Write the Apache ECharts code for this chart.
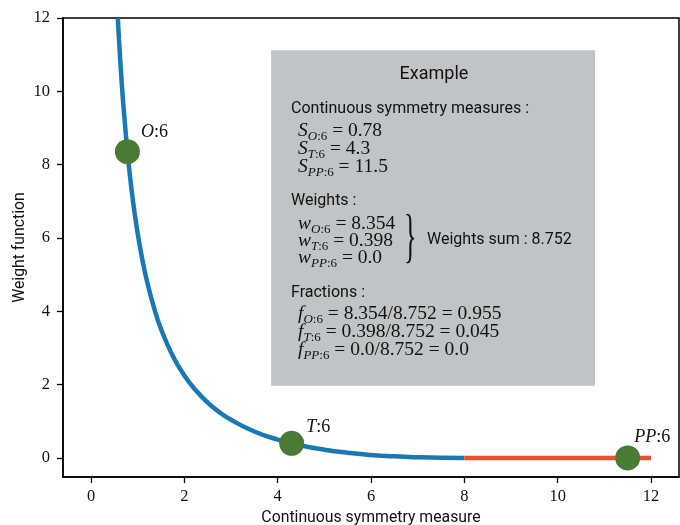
<!DOCTYPE html>
<html><head><meta charset="utf-8">
<script src="https://cdn.jsdelivr.net/npm/echarts@6/dist/echarts.min.js"></script>
<style>html,body{margin:0;padding:0;background:#fff}#c{width:680px;height:525px}</style>
</head><body><div id="c"></div>
<script>
// Weight curve (continuous symmetry measure, weight)
const curveX = [0.574, 0.6, 0.65, 0.7, 0.78, 0.8, 0.9, 1.0, 1.1, 1.2, 1.35, 1.5, 1.75, 2.0, 2.25, 2.5, 2.75, 3.0, 3.5, 4.0, 4.5, 5.0, 5.5, 6.0, 6.5, 7.0, 7.5, 8.0];
const curveY = [12.0, 11.41, 10.39, 9.52, 8.354, 8.1, 7.0, 6.125, 5.41, 4.82, 4.10, 3.52, 2.79, 2.25, 1.84, 1.51, 1.25, 1.04, 0.72, 0.50, 0.34, 0.225, 0.142, 0.083, 0.043, 0.018, 0.004, 0.0];
const zeroX = [8, 12];
const zeroY = [0, 0];
const pointNames = ['O', 'T', 'PP'];
const pointX = [0.78, 4.3, 11.5];
const pointY = [8.354, 0.398, 0.0];
const xTicks = [0, 2, 4, 6, 8, 10, 12];
const yTicks = [0, 2, 4, 6, 8, 10, 12];
const boxX = [3.86, 10.8];
const boxY = [1.97, 11.12];

const SERIF = 'Liberation Serif';
const SANS = 'Roboto';
const BLUE = '#1879b6', RED = '#ee4f27', GREEN = '#4a7b35', GRAY = '#c0c4c6';

const richMath = {
  v: {fontFamily: SERIF, fontStyle: 'italic', fontSize: 19.5, color: '#111'},
  n: {fontFamily: SERIF, fontSize: 19.5, color: '#111'},
  si: {fontFamily: SERIF, fontStyle: 'italic', fontSize: 13, color: '#111', padding: [11, 0, 0, 0]},
  sn: {fontFamily: SERIF, fontSize: 13, color: '#111', padding: [11, 0, 0, 0]}
};
function mathLine(v, sub, rest) {
  return '{v|' + v + '}{si|' + sub + '}{sn|:6}{n| ' + rest + '}';
}
function plain(x, y, text, size, align) {
  return {type: 'text', x: x, y: y, z: 100,
    style: {text: text, fill: '#111', font: size + 'px "' + SANS + '"', textAlign: align || 'left', textVerticalAlign: 'middle'}};
}
function mathAt(x, y, text) {
  return {type: 'text', x: x, y: y, z: 100,
    style: {text: text, rich: richMath, fill: '#111', textAlign: 'left', textVerticalAlign: 'middle'}};
}

const sLines = [['O', '= 0.78'], ['T', '= 4.3'], ['PP', '= 11.5']];
const wLines = [['O', '= 8.354'], ['T', '= 0.398'], ['PP', '= 0.0']];
const fLines = [['O', '= 8.354/8.752 = 0.955'], ['T', '= 0.398/8.752 = 0.045'], ['PP', '= 0.0/8.752 = 0.0']];
const sY = [131, 149, 167], wY = [224, 241, 258], fY = [314, 332, 350];

const graphics = [
  plain(434, 74, 'Example', 18, 'center'),
  plain(291, 109, 'Continuous symmetry measures :', 16),
  plain(291, 201, 'Weights :', 16),
  plain(427, 240, 'Weights sum : 8.752', 16),
  plain(291, 293, 'Fractions :', 16),
  {type: 'text', x: 404, y: 239, z: 100, scaleY: 2.3,
   style: {text: '}', font: '26px "' + SERIF + '"', fill: '#111', textAlign: 'left', textVerticalAlign: 'middle'}}
];
sLines.forEach((l, i) => graphics.push(mathAt(298, sY[i], mathLine('S', l[0], l[1]))));
wLines.forEach((l, i) => graphics.push(mathAt(298, wY[i], mathLine('w', l[0], l[1]))));
fLines.forEach((l, i) => graphics.push(mathAt(298, fY[i], mathLine('f', l[0], l[1]))));

const labelOffsets = [[-4, -19], [-3, -16], [-11, -21]];
const chart = echarts.init(document.getElementById('c'), null, {renderer: 'canvas'});
chart.setOption({
  animation: false,
  backgroundColor: '#fff',
  grid: {left: 63, right: 1, top: 18, bottom: 48, show: true, borderColor: '#000', borderWidth: 1.5,
         backgroundColor: 'transparent', containLabel: false, outerBoundsMode: 'none'},
  xAxis: {
    type: 'value', min: -0.6, max: 12.6,
    name: 'Continuous symmetry measure', nameLocation: 'middle', nameGap: 30,
    nameTextStyle: {fontFamily: SANS, fontSize: 15.8, color: '#111'},
    axisLine: {show: true, onZero: false, lineStyle: {color: '#000', width: 1.5}},
    axisTick: {show: true, length: 6, lineStyle: {color: '#000', width: 1.3}, customValues: xTicks},
    axisLabel: {customValues: xTicks, fontFamily: SERIF, fontSize: 16.5, color: '#111', margin: 11},
    splitLine: {show: false}
  },
  yAxis: {
    type: 'value', min: -0.52, max: 12,
    name: 'Weight function', nameLocation: 'middle', nameGap: 35, nameMoveOverlap: false,
    nameTextStyle: {fontFamily: SANS, fontSize: 15.8, color: '#111'},
    axisLine: {show: true, onZero: false, lineStyle: {color: '#000', width: 1.5}},
    axisTick: {show: true, length: 6, lineStyle: {color: '#000', width: 1.3}, customValues: yTicks},
    axisLabel: {customValues: yTicks, fontFamily: SERIF, fontSize: 16.5, color: '#111', margin: 13},
    splitLine: {show: false}
  },
  series: [
    {type: 'line', data: curveX.map((x, i) => [x, curveY[i]]), showSymbol: false, smooth: true,
     lineStyle: {color: BLUE, width: 4.5}, z: 3,
     markArea: {silent: true, itemStyle: {color: GRAY, opacity: 1}, data: [[{coord: [boxX[0], boxY[1]]}, {coord: [boxX[1], boxY[0]]}]]}},
    {type: 'line', data: zeroX.map((x, i) => [x, zeroY[i]]), showSymbol: false,
     lineStyle: {color: RED, width: 4.5}, z: 3},
    {type: 'scatter', symbolSize: 25, itemStyle: {color: GREEN, opacity: 1}, z: 5,
     data: pointX.map((x, i) => ({
       value: [x, pointY[i]],
       label: {show: true, position: 'right', offset: labelOffsets[i],
         formatter: '{i|' + pointNames[i] + '}{n|:6}',
         rich: {i: {fontFamily: SERIF, fontStyle: 'italic', fontSize: 18, color: '#111'},
                n: {fontFamily: SERIF, fontSize: 18, color: '#111'}}}
     }))}
  ],
  graphic: graphics
});
</script></body></html>
